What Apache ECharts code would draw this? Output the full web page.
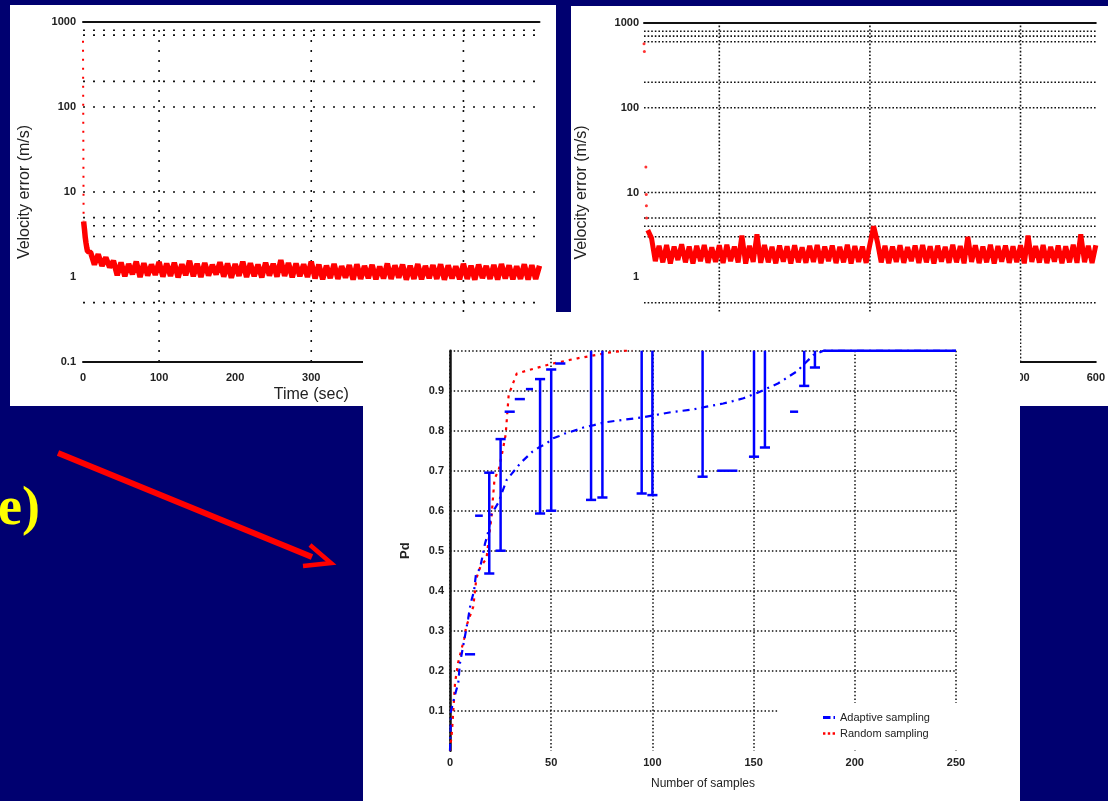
<!DOCTYPE html>
<html><head><meta charset="utf-8">
<script src="https://cdn.jsdelivr.net/npm/echarts/dist/echarts.min.js"></script>
<style>html,body{margin:0;padding:0;background:#000070;}#c{width:1108px;height:801px;}</style>
</head><body><div id="c"></div>
<script>
// ---------- Chart 1 (top left) ----------
const c1StartT = [0, 0.8];
const c1StartV = [600, 4.5];
const c1HeadT = [0.8, 2, 3, 4, 5, 6, 8];
const c1HeadV = [4.5, 3.6, 2.9, 2.5, 2.2, 2.0, 1.9];
const c1BandStart = 10, c1BandStep = 5;
const c1Band = [
 1.95,1.40,1.85,1.35,1.70,1.30,1.55,
 1.05,1.48,1.02,1.42,1.08,1.52,1.00,1.45,1.04,1.40,
 1.06,1.50,1.01,1.44,1.03,1.47,0.99,1.41,1.05,1.55,
 1.02,1.43,1.00,1.46,1.04,1.39,1.07,1.49,1.01,1.44,
 0.98,1.42,1.03,1.51,1.00,1.45,1.02,1.40,0.99,1.47,
 1.04,1.43,1.01,1.58,1.03,1.46,0.99,1.44,1.02,1.41,
 1.00,1.52,
 0.96,1.40,0.94,1.36,0.97,1.42,0.95,1.34,0.98,1.38,
 0.93,1.41,0.95,1.35,0.97,1.39,0.94,1.33,0.96,1.44,
 0.95,1.37,0.98,1.40,0.93,1.36,0.95,1.42,0.94,1.35,
 0.97,1.38,0.95,1.41,0.93,1.37,0.96,1.34,0.94,1.43,
 0.95,1.36,0.93,1.40,0.97,1.35,0.95,1.39,0.93,1.42,
 0.96,1.37,0.94,1.34,0.95,1.41,0.93,1.38,0.95,1.36
];
const c1GridX = [100, 300, 500];
const c1GridY = [800, 700, 200, 100, 10, 5, 4, 3, 0.5];

// ---------- Chart 2 (top right) ----------
const c2StartT = [0, 0.5, 2.5, 3, 3.2, 3.5];
const c2StartV = [570, 460, 20, 9.5, 7, 5];
const c2BandStart = 5, c2BandStep = 5;
const c2Band = [
 3.6,2.9,1.55,2.35,1.50,2.40,1.45,2.30,1.60,2.45,1.50,2.30,
 1.45,2.35,1.55,2.40,1.48,2.25,1.52,2.38,1.47,2.42,1.55,2.30,
 1.50,3.10,1.45,2.35,1.52,3.20,1.48,2.40,1.50,2.28,1.46,2.36,
 1.53,2.32,1.45,2.38,1.50,2.26,1.48,2.35,1.52,2.40,1.46,2.30,
 1.55,2.36,1.47,2.28,1.50,2.42,1.45,2.33,1.52,2.30,1.48,2.45,
 4.00,2.60,1.50,2.35,1.46,2.30,1.52,2.38,1.48,2.27,1.55,2.36,
 1.47,2.40,1.50,2.32,1.45,2.36,1.53,2.29,1.48,2.41,1.50,2.34,
 1.46,3.00,1.52,2.38,1.47,2.30,1.50,2.42,1.45,2.33,1.53,2.37,
 1.48,2.31,1.51,2.39,1.46,3.10,1.52,2.34,1.49,2.40,1.47,2.29,
 1.53,2.37,1.46,2.32,1.50,2.41,1.48,3.20,1.51,2.35,1.47,2.38
];
const c2GridX = [100, 300, 500];
const c2GridY = [800, 700, 600, 200, 100, 10, 5, 4, 3, 0.5];

const logTicks = [0.1, 1, 10, 100, 1000];
const logTickLabels = ['0.1', '1', '10', '100', '1000'];

// ---------- Chart 3 (bottom) ----------
const redX = [0, 1, 2.5, 4, 7, 8, 11.5, 13, 15, 18, 20.5, 22, 24, 26, 27.5, 29, 33, 40, 50, 63, 72, 78, 86, 90];
const redY = [0, 0.05, 0.17, 0.22, 0.28, 0.31, 0.36, 0.43, 0.46, 0.48, 0.585, 0.68, 0.70, 0.75, 0.79, 0.89, 0.943, 0.953, 0.967, 0.981, 0.989, 0.995, 1.0, 1.0];
const blueMeanX = [0, 0.5, 2.5, 4.1, 4.9, 6.3, 9, 10.2, 11.9, 12.8, 14.8, 16.2, 17.3, 18.6, 20.6, 22.2, 23.9, 28, 35, 40.8, 44.5, 47.4, 51, 54, 56.8, 62.6, 65.9, 71.1, 76.6, 85.3, 94.7, 104.6, 110, 120, 126.8, 135, 139.7, 145, 152, 162, 171.3, 179.5, 184.5, 250];
const blueMeanY = [0, 0.10, 0.14, 0.17, 0.218, 0.256, 0.331, 0.368, 0.40, 0.44, 0.456, 0.489, 0.518, 0.541, 0.593, 0.606, 0.62, 0.677, 0.72, 0.748, 0.76, 0.767, 0.781, 0.787, 0.793, 0.802, 0.808, 0.814, 0.821, 0.827, 0.833, 0.842, 0.847, 0.853, 0.86, 0.868, 0.874, 0.881, 0.895, 0.918, 0.948, 0.989, 1.0, 1.0];
const errX  = [19.4, 25, 44.5, 50, 69.7, 75.3, 94.7, 100, 124.8, 150.2, 155.6, 175, 180.3];
const errLo = [0.443, 0.5, 0.593, 0.6, 0.627, 0.633, 0.643, 0.639, 0.685, 0.735, 0.758, 0.912, 0.958];
const errHi = [0.695, 0.779, 0.929, 0.953, 1.0, 1.0, 1.0, 1.0, 1.0, 1.0, 1.0, 1.0, 1.0];
const segX1 = [7.4, 12.4, 27, 32, 37.5, 52, 132, 168, 184.5];
const segX2 = [12.4, 16.2, 32, 37, 41, 57, 142, 172, 250];
const segY  = [0.241, 0.5875, 0.8475, 0.879, 0.904, 0.968, 0.70, 0.8475, 1.0];
const blueName = 'Adaptive sampling';
const redName = 'Random sampling';

// ---------- helpers ----------
const zip = (a, b) => a.map((v, i) => [v, b[i]]);
const bandData = (start, step, vals) => vals.map((v, i) => [start + step * i, v]);
const labelFont = { color: '#222', fontSize: 11, fontWeight: 'bold', fontFamily: 'Liberation Sans' };

function vLines(ymin, ymax, dash, w) {
  return function (params, api) {
    const x = api.value(0);
    const a = api.coord([x, ymin]), b = api.coord([x, ymax]);
    return { type: 'line', shape: { x1: a[0], y1: a[1], x2: b[0], y2: b[1] },
      style: { stroke: '#111', lineWidth: w, lineDash: dash } };
  };
}
function hLines(xmin, xmax, dash, w) {
  return function (params, api) {
    const y = api.value(1);
    const a = api.coord([xmin, y]), b = api.coord([xmax, y]);
    return { type: 'line', shape: { x1: a[0], y1: a[1], x2: b[0], y2: b[1] },
      style: { stroke: '#111', lineWidth: w, lineDash: dash } };
  };
}
function gridSeries(xi, yi, data, fn, z) {
  return { type: 'custom', xAxisIndex: xi, yAxisIndex: yi, data: data, renderItem: fn,
    encode: { x: 0, y: 1 }, silent: true, z: z };
}

function logY(gi, name, gap) {
  return { type: 'log', logBase: 10, gridIndex: gi, min: 0.1, max: 1000, z: 1,
    axisLine: { show: false }, axisTick: { show: false }, splitLine: { show: false },
    axisLabel: { ...labelFont, margin: gi === 0 ? 7 : 5,
      formatter: v => { const i = logTicks.findIndex(t => Math.abs(t - v) / t < 1e-6); return i >= 0 ? logTickLabels[i] : ''; } },
    name: name, nameLocation: 'middle', nameRotate: 90, nameGap: gap,
    nameTextStyle: { color: '#222', fontSize: 16, fontFamily: 'Liberation Sans' } };
}
function timeX(gi, z) {
  return { type: 'value', gridIndex: gi, min: 0, max: 600, interval: 100, z: z,
    axisLine: { onZero: false, lineStyle: { color: '#111', width: 2 } },
    axisTick: { show: false }, splitLine: { show: false },
    axisLabel: { ...labelFont, margin: 10 },
    name: 'Time (sec)', nameLocation: 'middle', nameGap: 25,
    nameTextStyle: { color: '#222', fontSize: 16, fontFamily: 'Liberation Sans' } };
}
function topX(gi) {
  return { type: 'value', gridIndex: gi, position: 'top', min: 0, max: 600, z: 1,
    axisLine: { onZero: false, lineStyle: { color: '#111', width: 2 } },
    axisTick: { show: false }, axisLabel: { show: false }, splitLine: { show: false } };
}

const chart = echarts.init(document.getElementById('c'), null, { renderer: 'canvas' });
chart.setOption({
  backgroundColor: '#000070',
  animation: false,
  graphic: { elements: [
    { type: 'rect', z: 0, shape: { x: 10, y: 5, width: 546, height: 401 }, style: { fill: '#ffffff' } },
    { type: 'rect', z: 0, shape: { x: 571, y: 6, width: 537, height: 400 }, style: { fill: '#ffffff' } },
    { type: 'rect', z: 10, shape: { x: 363, y: 312, width: 657, height: 489 }, style: { fill: '#ffffff' } },
    { type: 'polyline', z: 1, shape: { points: [[58, 453], [312, 557]] }, style: { stroke: '#ff0000', lineWidth: 6 } },
    { type: 'polyline', z: 1, shape: { points: [[310, 545], [331, 563], [303, 566]] }, style: { stroke: '#ff0000', lineWidth: 4.5, fill: null } },
    { type: 'text', z: 1, x: -2, y: 510, style: { text: 'e)', font: 'bold 54px "Liberation Serif"', fill: '#ffff00', verticalAlign: 'middle' } }
  ] },
  grid: [
    { left: 83, top: 22, width: 456.5, height: 340 },
    { left: 644, top: 23, width: 456, height: 339 },
    { left: 450, top: 350.7, width: 506, height: 400, z: 11 }
  ],
  legend: {
    z: 30, left: 779, top: 703, orient: 'vertical', backgroundColor: '#ffffff',
    padding: [9, 32, 9, 44], itemWidth: 12, itemHeight: 10, itemGap: 5,
    data: [{ name: blueName, icon: 'path://M0,4H5V6H0ZM7,4H8V6H7Z' }, { name: redName, icon: 'path://M0,4H2V6H0ZM4,4H6V6H4ZM8,4H10V6H8Z' }],
    textStyle: { color: '#222', fontSize: 11, fontFamily: 'Liberation Sans' }
  },
  xAxis: [
    timeX(0, 1), topX(0), timeX(1, 1), topX(1),
    { type: 'value', gridIndex: 2, min: 0, max: 250, interval: 50, z: 11,
      axisLine: { show: false }, axisTick: { show: false },
      splitLine: { show: true, lineStyle: { color: '#111', width: 1.5, type: [1.5, 2.2] } },
      axisLabel: { ...labelFont, margin: 7 },
      name: 'Number of samples', nameLocation: 'middle', nameGap: 27,
      nameTextStyle: { color: '#222', fontSize: 12, fontFamily: 'Liberation Sans' } }
  ],
  yAxis: [
    logY(0, 'Velocity error (m/s)', 50),
    logY(1, 'Velocity error (m/s)', 54),
    { type: 'value', gridIndex: 2, min: 0, max: 1, interval: 0.1, z: 11,
      axisLine: { show: true, lineStyle: { color: '#111', width: 2.5 } }, axisTick: { show: false },
      splitLine: { show: true, showMinLine: false, lineStyle: { color: '#111', width: 1.5, type: [1.5, 2.2] } },
      axisLabel: { ...labelFont, margin: 6, formatter: v => (v <= 0.001 || v >= 0.999) ? '' : v.toFixed(1) },
      name: 'Pd', nameLocation: 'middle', nameRotate: 90, nameGap: 38,
      nameTextStyle: { color: '#222', fontSize: 13, fontWeight: 'bold', fontFamily: 'Liberation Sans' } }
  ],
  series: [
    // chart 1
    gridSeries(0, 0, c1GridX.map(v => [v, 1]), vLines(0.1, 1000, [2, 8], 1.6), 1),
    gridSeries(0, 0, c1GridY.map(v => [0, v]), hLines(0, 600, [2, 8], 1.6), 1),
    { type: 'line', xAxisIndex: 0, yAxisIndex: 0, data: zip(c1StartT, c1StartV), symbol: 'none', z: 3,
      lineStyle: { color: '#ff0000', width: 2, type: [2, 7] }, silent: true },
    { type: 'line', xAxisIndex: 0, yAxisIndex: 0, symbol: 'none', z: 3, silent: true,
      data: zip(c1HeadT, c1HeadV).concat(bandData(c1BandStart, c1BandStep, c1Band)),
      lineStyle: { color: '#ff0000', width: 5.5, join: 'bevel' } },
    // chart 2
    gridSeries(2, 1, c2GridX.map(v => [v, 1]), vLines(0.1, 1000, [1.6, 2], 1.6), 1),
    gridSeries(2, 1, c2GridY.map(v => [0, v]), hLines(0, 600, [1.6, 2], 1.6), 1),
    { type: 'scatter', xAxisIndex: 2, yAxisIndex: 1, data: zip(c2StartT, c2StartV), symbolSize: 3, z: 3,
      itemStyle: { color: '#ff0000' }, silent: true },
    { type: 'line', xAxisIndex: 2, yAxisIndex: 1, symbol: 'none', z: 3, silent: true,
      data: bandData(c2BandStart, c2BandStep, c2Band), lineStyle: { color: '#ff0000', width: 5, join: 'bevel' } },
    // chart 3
    { name: redName, type: 'line', xAxisIndex: 4, yAxisIndex: 2, data: zip(redX, redY), symbol: 'none', z: 13,
      lineStyle: { color: '#ff0000', width: 2.2, type: [3, 5] }, itemStyle: { color: '#ff0000' }, silent: true },
    { name: blueName, type: 'line', xAxisIndex: 4, yAxisIndex: 2, data: zip(blueMeanX, blueMeanY), symbol: 'none', z: 13,
      lineStyle: { color: '#0000ff', width: 2.2, type: [7, 5, 2, 5] }, itemStyle: { color: '#0000ff' }, silent: true },
    { type: 'custom', xAxisIndex: 4, yAxisIndex: 2, z: 14, silent: true,
      data: errX.map((x, i) => [x, errLo[i], errHi[i]]), encode: { x: 0, y: [1, 2] },
      renderItem: (params, api) => {
        const x = api.value(0), lo = api.value(1), hi = api.value(2);
        const a = api.coord([x, lo]), b = api.coord([x, hi]);
        const half = api.size([2.5, 0])[0];
        const st = { stroke: '#0000ff', lineWidth: 2.5 };
        const kids = [
          { type: 'line', shape: { x1: a[0], y1: a[1], x2: b[0], y2: b[1] }, style: st },
          { type: 'line', shape: { x1: a[0] - half, y1: a[1], x2: a[0] + half, y2: a[1] }, style: st }
        ];
        if (hi < 0.999) kids.push({ type: 'line', shape: { x1: b[0] - half, y1: b[1], x2: b[0] + half, y2: b[1] }, style: st });
        return { type: 'group', children: kids };
      } },
    { type: 'custom', xAxisIndex: 4, yAxisIndex: 2, z: 14, silent: true,
      data: segX1.map((x, i) => [x, segX2[i], segY[i]]), encode: { x: [0, 1], y: 2 },
      renderItem: (params, api) => {
        const a = api.coord([api.value(0), api.value(2)]), b = api.coord([api.value(1), api.value(2)]);
        return { type: 'line', shape: { x1: a[0], y1: a[1], x2: b[0], y2: b[1] }, style: { stroke: '#0000ff', lineWidth: 2.5 } };
      } }
  ]
});
</script></body></html>
